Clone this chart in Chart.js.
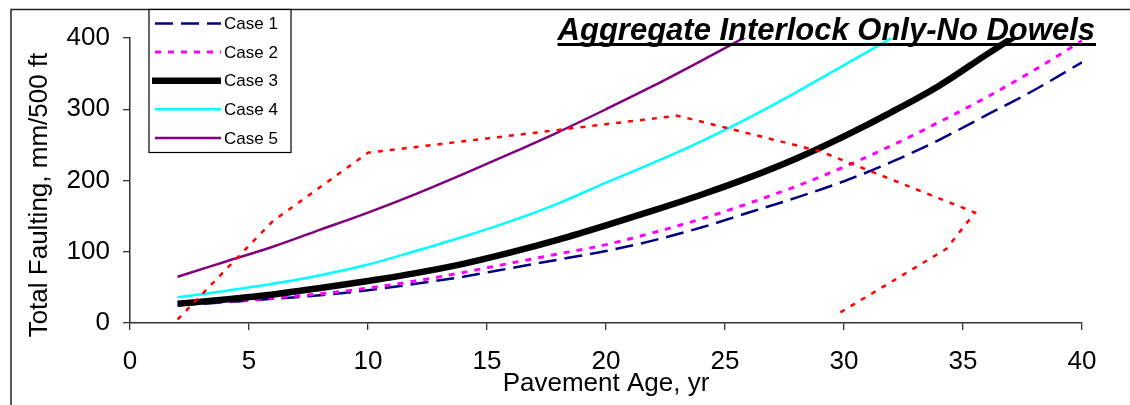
<!DOCTYPE html>
<html>
<head>
<meta charset="utf-8">
<title>Total Faulting vs Pavement Age</title>
<script src="https://cdn.jsdelivr.net/npm/chart.js@4.4.1/dist/chart.umd.min.js"></script>
<style>
  html, body { margin: 0; padding: 0; background: #ffffff; }
  #wrap { width: 1130px; height: 405px; }
</style>
</head>
<body>
<div id="wrap"><canvas id="chart" width="1130" height="405"></canvas></div>
<script>
// Pavement age (years) at which the case curves are evaluated
const years = [2, 4, 6, 8, 10, 12, 14, 16, 18, 20, 22, 24, 26, 28, 30, 32, 34, 36, 38, 40];

// Total faulting (mm/500 ft) for each case
const case1 = [25, 29, 34, 39, 46, 55, 65, 77, 89, 101, 116, 134, 155, 176, 199, 226, 257, 292, 327, 366];
const case2 = [26, 30, 35, 41, 49, 59, 71, 84, 97, 110, 127, 146, 168, 192, 219, 249, 282, 317, 355, 396];
const case3 = [27, 33, 40, 49, 59, 70, 83, 99, 117, 137, 158, 180, 204, 231, 262, 296, 333, 377, 420];
const case4 = [36, 45, 55, 67, 82, 101, 121, 143, 168, 197, 225, 255, 288, 324, 362, 400, 440];
const case5 = [65, 86, 107, 131, 155, 181, 209, 238, 268, 300, 333, 368, 404, 442];

// Dotted red trace (not listed in the legend)
const redX = [2, 6, 10, 23, 29, 35.5, 34.3, 29.6];
const redY = [5, 143, 239, 291, 241, 155, 104, 10];

// Axis ticks
const xTicks = [0, 5, 10, 15, 20, 25, 30, 35, 40];
const yTicks = [0, 100, 200, 300, 400];

const caseLabels = ['Case 1', 'Case 2', 'Case 3', 'Case 4', 'Case 5'];
const chartTitle = 'Aggregate Interlock Only-No Dowels';
const xTitle = 'Pavement Age, yr';
const yTitle = 'Total Faulting, mm/500 ft';

const FONT = '"Liberation Sans", Arial, Helvetica, sans-serif';

function pairs(xs, ys) {
  return ys.map((y, i) => ({ x: xs[i], y: y }));
}

const datasets = [
  { label: caseLabels[0], data: pairs(years, case1), borderColor: '#000080', borderWidth: 2.5, borderDash: [18, 8], order: 5, cubicInterpolationMode: 'monotone' },
  { label: caseLabels[1], data: pairs(years, case2), borderColor: '#FF00FF', borderWidth: 3, borderDash: [6, 7], order: 4, cubicInterpolationMode: 'monotone' },
  { label: caseLabels[2], data: pairs(years, case3), borderColor: '#000000', borderWidth: 6.5, borderDash: [], order: 3, cubicInterpolationMode: 'monotone' },
  { label: caseLabels[3], data: pairs(years, case4), borderColor: '#00FFFF', borderWidth: 2.5, borderDash: [], order: 2, cubicInterpolationMode: 'monotone' },
  { label: caseLabels[4], data: pairs(years, case5), borderColor: '#800080', borderWidth: 2.5, borderDash: [], order: 1, cubicInterpolationMode: 'monotone' },
  { label: 'red', data: pairs(redX, redY), borderColor: '#FF0000', borderWidth: 2.5, borderDash: [5, 7], order: 0, tension: 0, inLegend: false }
].map(d => Object.assign({ pointRadius: 0, pointHoverRadius: 0, showLine: true, fill: false, backgroundColor: d.borderColor }, d));

// Frame, title, legend and axis titles drawn over the plot
const decorations = {
  id: 'decorations',
  afterDraw(chart) {
    const ctx = chart.ctx;
    const area = chart.chartArea;
    ctx.save();

    // outer frame (top and left edges)
    ctx.strokeStyle = '#222222';
    ctx.lineWidth = 1.5;
    ctx.beginPath();
    ctx.moveTo(11, 405);
    ctx.lineTo(11, 9.5);
    ctx.lineTo(1130, 9.5);
    ctx.stroke();

    // underlined bold italic title
    ctx.font = 'italic bold 31px ' + FONT;
    ctx.fillStyle = '#000000';
    ctx.textAlign = 'right';
    ctx.textBaseline = 'alphabetic';
    const tRight = 1095;
    const tW = ctx.measureText(chartTitle).width;
    ctx.fillText(chartTitle, tRight, 40);
    ctx.fillRect(tRight - tW, 43, tW + 1, 3);

    // axis titles
    ctx.font = '26px ' + FONT;
    ctx.textAlign = 'center';
    ctx.fillText(xTitle, (area.left + area.right) / 2, 391);
    ctx.save();
    ctx.translate(47, 195);
    ctx.rotate(-Math.PI / 2);
    ctx.fillText(yTitle, 0, 0);
    ctx.restore();

    // legend box
    const lx = 149, ly = 9.5, lw = 142, lh = 143;
    ctx.fillStyle = '#ffffff';
    ctx.fillRect(lx, ly, lw, lh);
    ctx.strokeStyle = '#000000';
    ctx.lineWidth = 1.2;
    ctx.strokeRect(lx, ly, lw, lh);
    ctx.font = '17px ' + FONT;
    ctx.textAlign = 'left';
    ctx.textBaseline = 'middle';
    const rows = chart.data.datasets.filter(d => d.inLegend !== false);
    rows.forEach((d, i) => {
      const cy = 23.5 + i * 28.6;
      ctx.strokeStyle = d.borderColor;
      ctx.lineWidth = d.borderWidth;
      ctx.setLineDash(d.borderDash || []);
      ctx.beginPath();
      ctx.moveTo(d.borderWidth > 5 ? 152 : 155, cy);
      ctx.lineTo(221, cy);
      ctx.stroke();
      ctx.setLineDash([]);
      ctx.fillStyle = '#000000';
      ctx.fillText(d.label, 224, cy + 1);
    });
    ctx.restore();
  }
};

new Chart(document.getElementById('chart'), {
  type: 'scatter',
  data: { datasets: datasets },
  options: {
    responsive: false,
    animation: false,
    events: [],
    layout: { padding: { top: 38, right: 48, left: 0, bottom: 0 } },
    plugins: { legend: { display: false }, tooltip: { enabled: false }, title: { display: false } },
    scales: {
      x: {
        type: 'linear', min: 0, max: 40,
        afterFit(scale) { scale.height = 82; },
        afterBuildTicks(scale) { scale.ticks = xTicks.map(v => ({ value: v })); },
        grid: { display: true, drawOnChartArea: false, drawTicks: true, tickLength: 7, color: '#333333', lineWidth: 1.3 },
        border: { display: true, color: '#333333', width: 1.5 },
        ticks: { color: '#000000', font: { family: FONT, size: 26 }, padding: 16, maxRotation: 0 }
      },
      y: {
        type: 'linear', min: 0, max: 400,
        afterFit(scale) { scale.width = 130; },
        afterBuildTicks(scale) { scale.ticks = yTicks.map(v => ({ value: v })); },
        grid: { display: true, drawOnChartArea: false, drawTicks: true, tickLength: 7, color: '#333333', lineWidth: 1.3 },
        border: { display: true, color: '#333333', width: 1.5 },
        ticks: { color: '#000000', font: { family: FONT, size: 26 }, padding: 13 }
      }
    }
  },
  plugins: [decorations]
});
</script>
</body>
</html>
